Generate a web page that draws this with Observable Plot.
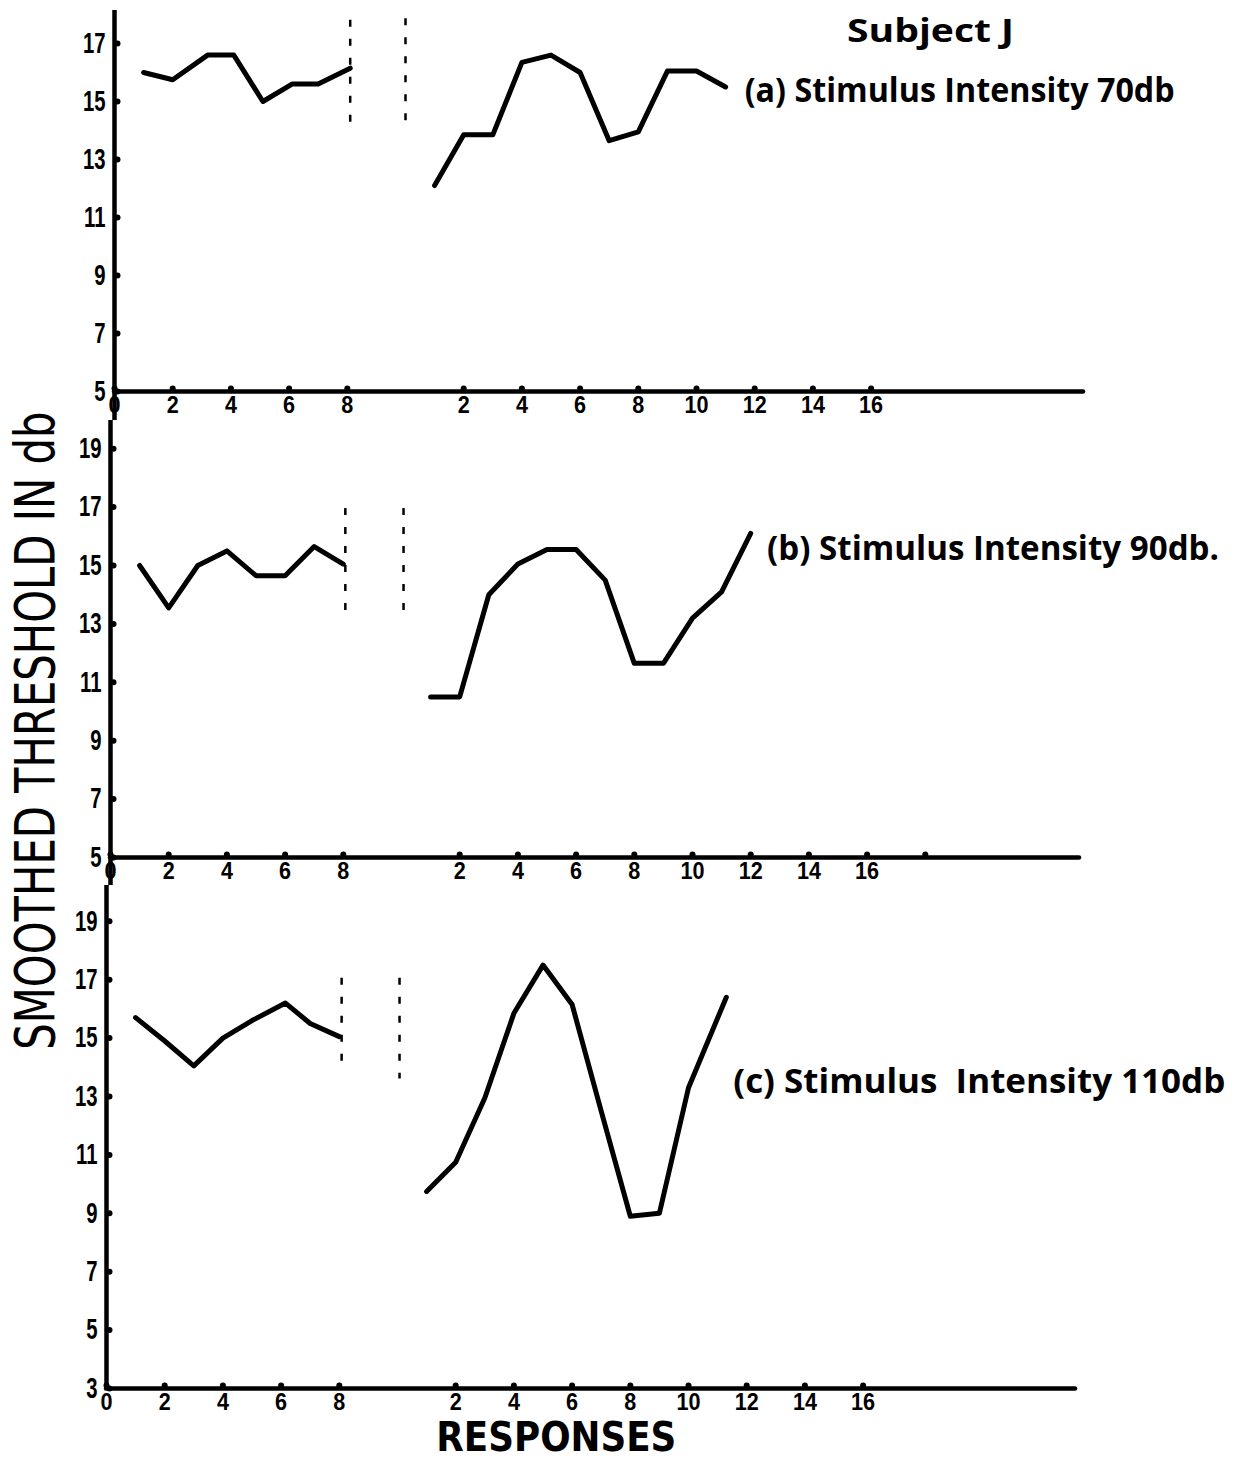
<!DOCTYPE html>
<html><head><meta charset="utf-8">
<script src="https://cdn.jsdelivr.net/npm/d3@7"></script>
<script src="https://cdn.jsdelivr.net/npm/@observablehq/plot@0.6"></script>
<style>
html,body{margin:0;padding:0;background:#fff;}
#fig{position:relative;width:1237px;height:1461px;overflow:hidden;background:#fff;}
#fig svg{display:block;overflow:visible;}
.lbl{position:absolute;white-space:pre;color:#000;line-height:0.75;}
</style></head><body><div id="fig"></div>
<script>
// ---------------- data ----------------
const RIGHT_OFFSET = 10;               // right-hand block starts 10 units after the left origin
const leftTickLabels = [0, 2, 4, 6, 8];
const rightTickLabels = [2, 4, 6, 8, 10, 12, 14, 16];

const yTicksA = [5, 7, 9, 11, 13, 15, 17];
const yTicksB = [5, 7, 9, 11, 13, 15, 17, 19];
const yTicksC = [3, 5, 7, 9, 11, 13, 15, 17, 19];

// (a) 70 db
const a70BeforeX = [1, 2, 3.2, 4.1, 5.1, 6.1, 7, 8.1];
const a70Before  = [16.0, 15.75, 16.6, 16.6, 15.0, 15.6, 15.6, 16.15];
const a70AfterX  = [1, 2, 3, 4, 5, 6, 7, 8, 9, 10, 11];
const a70After   = [12.1, 13.85, 13.85, 16.35, 16.6, 16.0, 13.65, 13.95, 16.05, 16.05, 15.5];

// (b) 90 db
const b90BeforeX = [1, 2, 3, 4, 5, 6, 7, 8];
const b90Before  = [15.0, 13.55, 15.0, 15.5, 14.65, 14.65, 15.65, 15.05];
const b90AfterX  = [1, 2, 3, 4, 5, 6, 7, 8, 9, 10, 11, 12];
const b90After   = [10.5, 10.5, 14.0, 15.05, 15.55, 15.55, 14.5, 11.65, 11.65, 13.2, 14.1, 16.1];

// (c) 110 db
const c110BeforeX = [1, 2, 3, 4, 5, 6.15, 7, 8];
const c110Before  = [15.7, 14.9, 14.05, 15.0, 15.6, 16.2, 15.5, 15.05];
const c110AfterX  = [1, 2, 3, 4, 5, 6, 7, 8, 9, 10, 11.3];
const c110After   = [9.75, 10.75, 12.95, 15.85, 17.5, 16.15, 12.5, 8.9, 9.0, 13.3, 16.4];

// dashed separators (global x, top, bottom)
const dashAX = [8.1, 10.0],  dashAtop = [17.8, 17.85], dashAbot = [14.1, 14.05];
const dashBX = [8.07, 10.07], dashBtop = [16.95, 16.95], dashBbot = [13.05, 13.3];
const dashCX = [8.08, 10.07], dashCtop = [17.05, 17.05], dashCbot = [14.0, 13.6];

const extraBumpB = [18];   // unlabeled tick on the right block of (b)

// ---------------- drawing ----------------
const fig = document.getElementById('fig');
const UX = 29.1;
const XMAX = 34;
const AXIS_END = 33.3;
const NUM_FONT = '"Liberation Sans","Arial",sans-serif';

const xTickPos = leftTickLabels.concat(rightTickLabels.map(t => t + RIGHT_OFFSET));
const xFmt = d => (d >= RIGHT_OFFSET ? Math.round(d - RIGHT_OFFSET) : d);

function rows(xs, ys, off) { return ys.map((v, i) => ({x: xs[i] + off, y: v})); }
function dashRows(xs, t, b) { return xs.map((x, i) => ({x, y1: t[i], y2: b[i]})); }

function squeeze(svg, sel, sx) {
  svg.querySelectorAll(sel).forEach(t => {
    const tr = t.getAttribute('transform');
    if (tr) t.setAttribute('transform', tr + ' scale(' + sx + ',1)');
    else {
      const x = +(t.getAttribute('x') || 0);
      t.setAttribute('transform', 'translate(' + x + ',0) scale(' + sx + ',1) translate(' + (-x) + ',0)');
    }
  });
}

function panel(cfg) {
  const {origin, baseline, height, yMin, unitY, yTicks, before, after, dashes, axisTop, axisBottom, bumps} = cfg;
  const yTop = yMin + baseline / unitY;
  const svg = Plot.plot({
    width: 1237, height,
    marginLeft: origin, marginRight: 1237 - origin - XMAX * UX,
    marginTop: 0, marginBottom: height - baseline,
    x: {domain: [0, XMAX]},
    y: {domain: [yMin, yTop]},
    style: {background: 'transparent', overflow: 'visible', color: '#000'},
    marks: [
      Plot.ruleY([yMin], {x1: 0, x2: AXIS_END, stroke: '#000', strokeWidth: 4.5, strokeLinecap: 'round'}),
      Plot.ruleX([0], {y1: axisBottom, y2: axisTop == null ? yTop : axisTop, stroke: '#000', strokeWidth: 4.5}),
      Plot.dot(bumps, {x: d => d, y: yMin, r: 3, fill: '#000', stroke: 'none', dy: -3}),
      Plot.dot(yTicks, {x: 0, y: d => d, r: 3, fill: '#000', stroke: 'none', dx: 3}),
      Plot.axisX({ticks: xTickPos, tickFormat: xFmt, tickSize: 0, tickPadding: 4, fontSize: 24, fontWeight: 'bold', fontFamily: NUM_FONT, label: null}),
      Plot.axisY({ticks: yTicks, tickSize: 0, tickPadding: 9, fontSize: 29, fontWeight: 'bold', fontFamily: NUM_FONT, label: null}),
      Plot.ruleX(dashes, {x: 'x', y1: 'y1', y2: 'y2', stroke: '#000', strokeWidth: 2.5, strokeDasharray: '7,12'}),
      Plot.line(before, {x: 'x', y: 'y', stroke: '#000', strokeWidth: 5, strokeLinejoin: 'round', strokeLinecap: 'round'}),
      Plot.line(after, {x: 'x', y: 'y', stroke: '#000', strokeWidth: 5, strokeLinejoin: 'round', strokeLinecap: 'round'})
    ]
  });
  squeeze(svg, 'g[aria-label="x-axis tick label"] text', 0.9);
  squeeze(svg, 'g[aria-label="y-axis tick label"] text', 0.7);
  return svg;
}

const bumpsStd = xTickPos;
fig.appendChild(panel({
  origin: 114, baseline: 391, height: 420, yMin: 5, unitY: 29, yTicks: yTicksA,
  before: rows(a70BeforeX, a70Before, 0), after: rows(a70AfterX, a70After, RIGHT_OFFSET),
  dashes: dashRows(dashAX, dashAtop, dashAbot), axisTop: 18.14, axisBottom: 4.0, bumps: bumpsStd
}));
fig.appendChild(panel({
  origin: 110, baseline: 437, height: 465, yMin: 5, unitY: 29.2, yTicks: yTicksB,
  before: rows(b90BeforeX, b90Before, 0), after: rows(b90AfterX, b90After, RIGHT_OFFSET),
  dashes: dashRows(dashBX, dashBtop, dashBbot), axisTop: null, axisBottom: 4.04,
  bumps: bumpsStd.concat(extraBumpB.map(t => t + RIGHT_OFFSET))
}));
fig.appendChild(panel({
  origin: 106, baseline: 503, height: 576, yMin: 3, unitY: 29.2, yTicks: yTicksC,
  before: rows(c110BeforeX, c110Before, 0), after: rows(c110AfterX, c110After, RIGHT_OFFSET),
  dashes: dashRows(dashCX, dashCtop, dashCbot), axisTop: null, axisBottom: 2.95, bumps: bumpsStd
}));

// ---------------- text ----------------
function label(text, cx, cy, w, size, font, weight, rotate) {
  const d = document.createElement('div');
  d.className = 'lbl';
  d.textContent = text;
  d.style.fontSize = size + 'px';
  d.style.fontFamily = font;
  d.style.fontWeight = weight;
  fig.appendChild(d);
  const r = d.getBoundingClientRect();
  const sx = w / r.width;
  d.style.left = (cx - r.width / 2) + 'px';
  d.style.top = (cy - r.height / 2) + 'px';
  d.style.transformOrigin = 'center center';
  d.style.transform = (rotate ? 'rotate(-90deg) ' : '') + 'scaleX(' + sx + ')';
}
const HAND = '"Open Sans","Noto Sans",sans-serif';
const STENCIL = '"DejaVu Sans","Liberation Sans",sans-serif';
label('Subject J', 931, 30, 167, 33, HAND, 700, false);
label('(a) Stimulus Intensity 70db', 960, 90, 430, 34, HAND, 700, false);
label('(b) Stimulus Intensity 90db.', 993, 548, 452, 34, HAND, 700, false);
label('(c) Stimulus  Intensity 110db', 979, 1081, 492, 34, HAND, 700, false);
label('SMOOTHED THRESHOLD IN db', 36, 731, 638, 55, STENCIL, 400, true);
label('RESPONSES', 556, 1437, 240, 40, STENCIL, 700, false);
</script>
</body></html>
